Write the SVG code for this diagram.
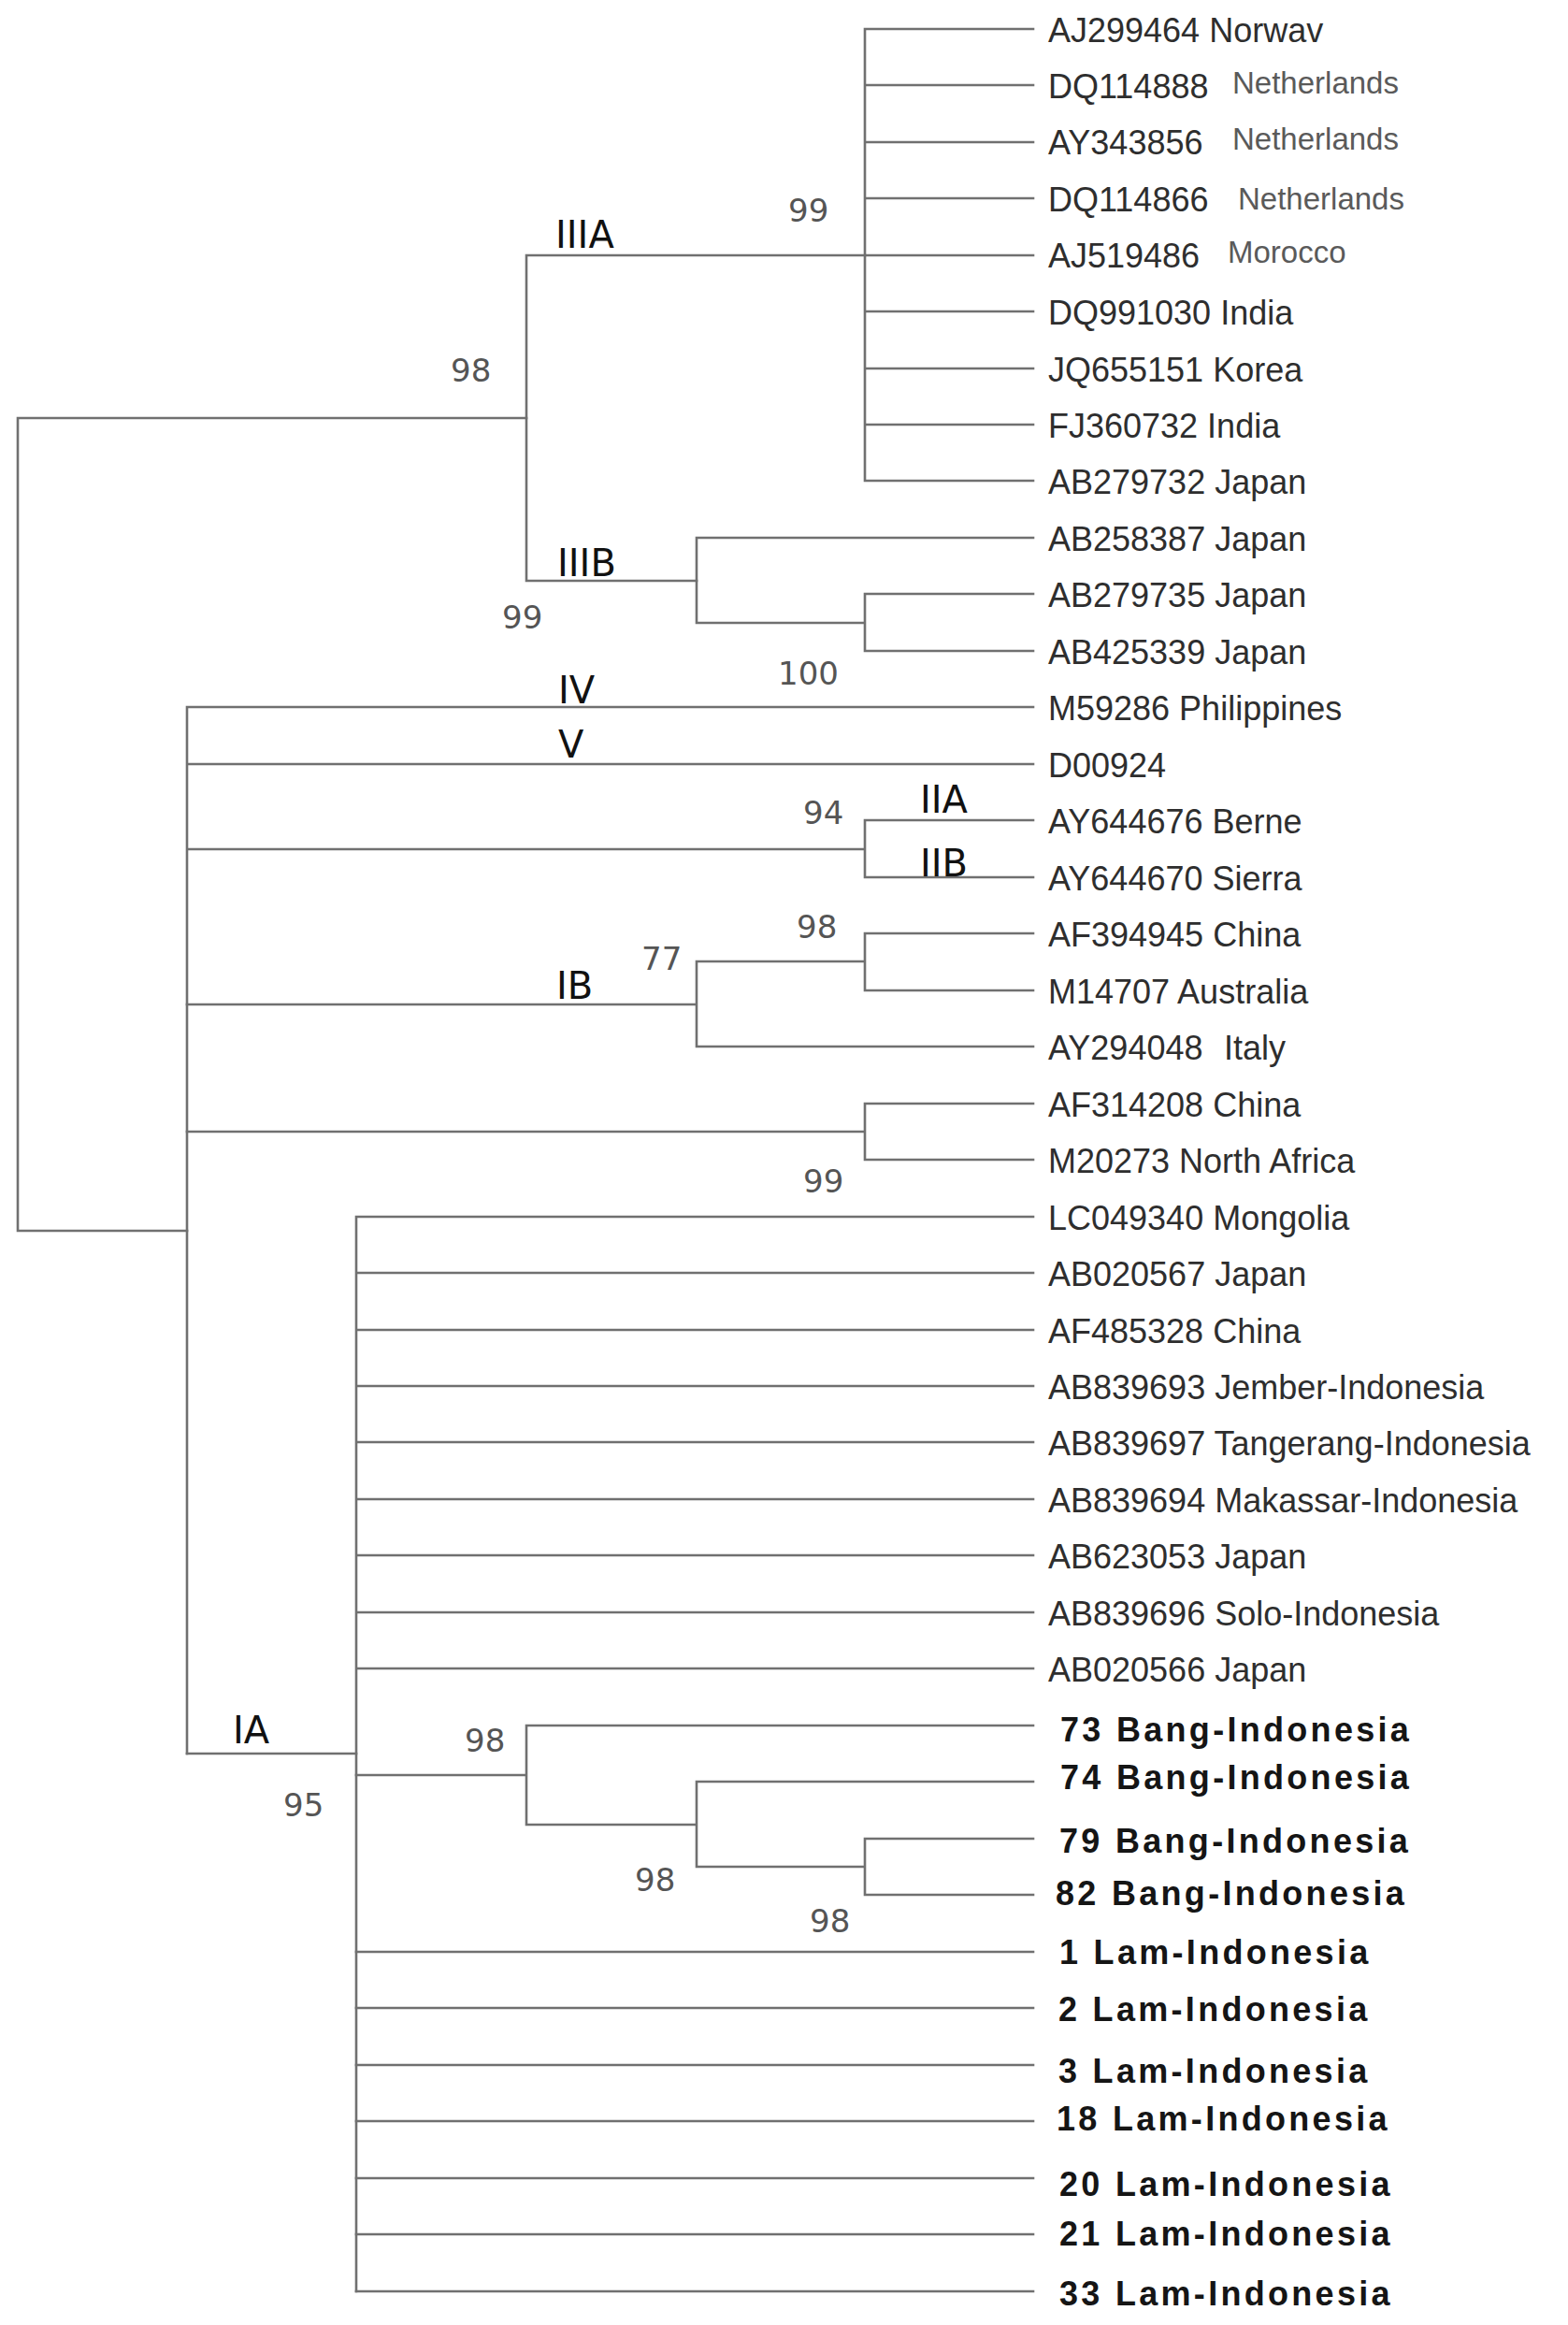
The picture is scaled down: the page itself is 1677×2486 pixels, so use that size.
<svg xmlns="http://www.w3.org/2000/svg" width="1677" height="2486" viewBox="0 0 1677 2486">
<style>
.br{fill:none;stroke:#707070;stroke-width:2.6;stroke-linecap:square}
.lb{font-family:"Liberation Sans",Arial,sans-serif;font-size:36px;fill:#2e2e2e}
.ct{font-family:"Liberation Sans",Arial,sans-serif;font-size:33px;fill:#5a5a5a}
.bd{font-family:"Liberation Sans",Arial,sans-serif;font-size:36px;font-weight:bold;fill:#151515;letter-spacing:3.3px}
.bs{font-family:"DejaVu Sans",Verdana,sans-serif;font-size:34px;fill:#555}
.cl{font-family:"DejaVu Sans",Verdana,sans-serif;font-size:40px;fill:#111}
</style>
<rect width="1677" height="2486" fill="#fff"/>
<g id="connectors" class="br">
<path d="M19 447V1316M19 447H563M19 1316H200"/>
<path d="M563 273V621M563 273H925M563 621H745"/>
<path d="M925 31V514M925 31H1105M925 91H1105M925 152H1105M925 212H1105M925 273H1105M925 333H1105M925 394H1105M925 454H1105M925 514H1105"/>
<path d="M745 575V666M745 575H1105M745 666H925M925 635V696M925 635H1105M925 696H1105"/>
<path d="M200 756V1875M200 756H1105M200 817H1105M200 908H925M925 877V938M925 877H1105M925 938H1105"/>
<path d="M200 1074H745M745 1028V1119M745 1028H925M925 998V1059M925 998H1105M925 1059H1105M745 1119H1105"/>
<path d="M200 1210H925M925 1180V1240M925 1180H1105M925 1240H1105M200 1875H381"/>
<path d="M381 1301V2450M381 1301H1105M381 1361H1105M381 1422H1105M381 1482H1105M381 1542H1105M381 1603H1105M381 1663H1105M381 1724H1105M381 1784H1105"/>
<path d="M381 1898H563M563 1845V1951M563 1845H1105M563 1951H745M745 1905V1996M745 1905H1105M745 1996H925M925 1966V2026M925 1966H1105M925 2026H1105"/>
<path d="M381 2087H1105M381 2147H1105M381 2208H1105M381 2268H1105M381 2329H1105M381 2389H1105M381 2450H1105"/>
</g>
<g id="clade-labels" class="cl">
<text x="594" y="265">IIIA</text>
<text x="596" y="616">IIIB</text>
<text x="597" y="752">IV</text>
<text x="597" y="810">V</text>
<text x="984" y="869">IIA</text>
<text x="984" y="937">IIB</text>
<text x="595" y="1068">IB</text>
<text x="249" y="1864">IA</text>
</g>
<g id="bootstrap" class="bs">
<text x="482" y="408">98</text>
<text x="843" y="237">99</text>
<text x="537" y="672">99</text>
<text x="832" y="732">100</text>
<text x="859" y="881">94</text>
<text x="852" y="1003">98</text>
<text x="686" y="1037">77</text>
<text x="859" y="1275">99</text>
<text x="497" y="1873">98</text>
<text x="303" y="1942">95</text>
<text x="679" y="2022">98</text>
<text x="866" y="2066">98</text>
</g>
<g id="leaf-AJ299464"><text class="lb" x="1121" y="45">AJ299464 Norwav</text></g>
<g id="leaf-DQ114888"><text class="lb" x="1121" y="105">DQ114888</text><text class="ct" x="1318" y="100">Netherlands</text></g>
<g id="leaf-AY343856"><text class="lb" x="1121" y="165">AY343856</text><text class="ct" x="1318" y="160">Netherlands</text></g>
<g id="leaf-DQ114866"><text class="lb" x="1121" y="226">DQ114866</text><text class="ct" x="1324" y="224">Netherlands</text></g>
<g id="leaf-AJ519486"><text class="lb" x="1121" y="286">AJ519486</text><text class="ct" x="1313" y="281">Morocco</text></g>
<g id="leaf-DQ991030"><text class="lb" x="1121" y="347">DQ991030 India</text></g>
<g id="leaf-JQ655151"><text class="lb" x="1121" y="408">JQ655151 Korea</text></g>
<g id="leaf-FJ360732"><text class="lb" x="1121" y="468">FJ360732 India</text></g>
<g id="leaf-AB279732"><text class="lb" x="1121" y="528">AB279732 Japan</text></g>
<g id="leaf-AB258387"><text class="lb" x="1121" y="589">AB258387 Japan</text></g>
<g id="leaf-AB279735"><text class="lb" x="1121" y="649">AB279735 Japan</text></g>
<g id="leaf-AB425339"><text class="lb" x="1121" y="710">AB425339 Japan</text></g>
<g id="leaf-M59286"><text class="lb" x="1121" y="770">M59286 Philippines</text></g>
<g id="leaf-D00924"><text class="lb" x="1121" y="831">D00924</text></g>
<g id="leaf-AY644676"><text class="lb" x="1121" y="891">AY644676 Berne</text></g>
<g id="leaf-AY644670"><text class="lb" x="1121" y="952">AY644670 Sierra</text></g>
<g id="leaf-AF394945"><text class="lb" x="1121" y="1012">AF394945 China</text></g>
<g id="leaf-M14707"><text class="lb" x="1121" y="1073">M14707 Australia</text></g>
<g id="leaf-AY294048"><text class="lb" x="1121" y="1133">AY294048</text><text class="lb" x="1309" y="1133">Italy</text></g>
<g id="leaf-AF314208"><text class="lb" x="1121" y="1194">AF314208 China</text></g>
<g id="leaf-M20273"><text class="lb" x="1121" y="1254">M20273 North Africa</text></g>
<g id="leaf-LC049340"><text class="lb" x="1121" y="1315">LC049340 Mongolia</text></g>
<g id="leaf-AB020567"><text class="lb" x="1121" y="1375">AB020567 Japan</text></g>
<g id="leaf-AF485328"><text class="lb" x="1121" y="1436">AF485328 China</text></g>
<g id="leaf-AB839693"><text class="lb" x="1121" y="1496">AB839693 Jember-Indonesia</text></g>
<g id="leaf-AB839697"><text class="lb" x="1121" y="1556">AB839697 Tangerang-Indonesia</text></g>
<g id="leaf-AB839694"><text class="lb" x="1121" y="1617">AB839694 Makassar-Indonesia</text></g>
<g id="leaf-AB623053"><text class="lb" x="1121" y="1677">AB623053 Japan</text></g>
<g id="leaf-AB839696"><text class="lb" x="1121" y="1738">AB839696 Solo-Indonesia</text></g>
<g id="leaf-AB020566"><text class="lb" x="1121" y="1798">AB020566 Japan</text></g>
<g id="leaf-73"><text class="bd" x="1134" y="1862">73 Bang-Indonesia</text></g>
<g id="leaf-74"><text class="bd" x="1134" y="1913">74 Bang-Indonesia</text></g>
<g id="leaf-79"><text class="bd" x="1133" y="1981">79 Bang-Indonesia</text></g>
<g id="leaf-82"><text class="bd" x="1129" y="2037">82 Bang-Indonesia</text></g>
<g id="leaf-1"><text class="bd" x="1133" y="2100">1 Lam-Indonesia</text></g>
<g id="leaf-2"><text class="bd" x="1132" y="2161">2 Lam-Indonesia</text></g>
<g id="leaf-3"><text class="bd" x="1132" y="2227">3 Lam-Indonesia</text></g>
<g id="leaf-18"><text class="bd" x="1130" y="2278">18 Lam-Indonesia</text></g>
<g id="leaf-20"><text class="bd" x="1133" y="2348">20 Lam-Indonesia</text></g>
<g id="leaf-21"><text class="bd" x="1133" y="2401">21 Lam-Indonesia</text></g>
<g id="leaf-33"><text class="bd" x="1133" y="2465">33 Lam-Indonesia</text></g>
</svg>
